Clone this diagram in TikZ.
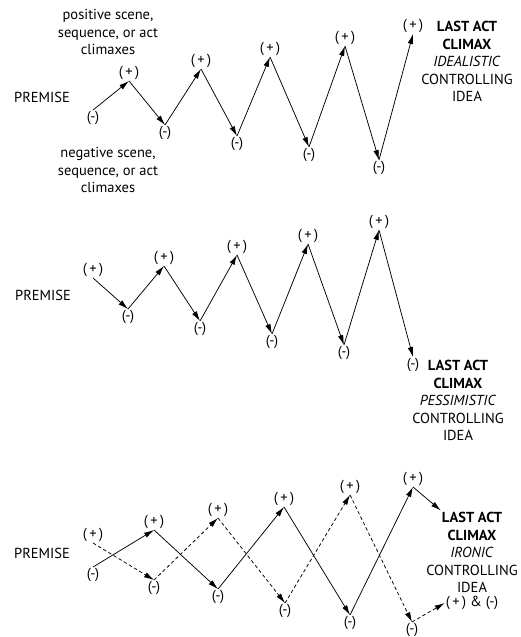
\documentclass[tikz,border=0pt]{standalone}
\usepackage{fontspec}
\setmainfont{PT Sans}
\usetikzlibrary{positioning}
\usetikzlibrary{arrows.meta}

\begin{document}
\begin{tikzpicture}[
    x=1pt, y=-1pt,       % one unit per pixel, y running down
    node distance=5pt,   % gap below the LAST ACT heads
    ]
% -------------------------------------------------
\tikzset{
  base/.style={inner sep=1pt, font=\fontsize{14.5}{17.5}\selectfont},
  sign/.style={base},
  note/.style={base, align=center},
  head/.style={base, font=\fontsize{14.5}{17.5}\selectfont\bfseries},
  line/.style={draw, line width=0.75pt, -{Latex[length=10pt,width=5.5pt]}},
  dline/.style={line, dash pattern=on 3.5pt off 2.5pt}
}
\useasboundingbox (0,0) rectangle (521,637);
% -------------------------------------------------
% Idealistic ending

\node [note] (pos) at (108,32) {positive scene,\\sequence, or act\\climaxes};
\node [note] (neg) at (108,170) {negative scene,\\sequence, or act\\climaxes};
\node [base] (prt) at (42,97) {PREMISE};

\node [sign] (tm0) at (93,118) {(-)};
\node [sign] (tp1) at (129,73) {(\,+\,)};
\node [sign] (tm1) at (165,133) {(-)};
\node [sign] (tp2) at (201,61) {(\,+\,)};
\node [sign] (tm2) at (237,144) {(-)};
\node [sign] (tp3) at (270,49) {(\,+\,)};
\node [sign] (tm3) at (309,155) {(-)};
\node [sign] (tp4) at (345,38) {(\,+\,)};
\node [sign] (tm4) at (379,168) {(-)};
\node [sign] (tp5) at (413,26) {(\,+\,)};
\node [head] (lastt) at (467,26) {LAST ACT};
\node [note, below=of lastt] (idea) {\textbf{CLIMAX}\\\textit{IDEALISTIC}\\CONTROLLING\\IDEA};

\path [line] (tm0.north) -- (tp1.south);
\path [line] (tp1.south) -- (tm1.north);
\path [line] (tm1.north) -- (tp2.south);
\path [line] (tp2.south) -- (tm2.north);
\path [line] (tm2.north) -- (tp3.south);
\path [line] (tp3.south) -- (tm3.north);
\path [line] (tm3.north) -- (tp4.south);
\path [line] (tp4.south) -- (tm4.north);
\path [line] (tm4.north) -- (tp5.south);

% -------------------------------------------------
% Pessimistic ending

\node [base] (prm) at (43,295) {PREMISE};

\node [sign] (mp0) at (93,270) {(\,+\,)};
\node [sign] (mm1) at (128,317) {(-)};
\node [sign] (mp1) at (164,258) {(\,+\,)};
\node [sign] (mm2) at (200,329) {(-)};
\node [sign] (mp2) at (237,247) {(\,+\,)};
\node [sign] (mm3) at (272,342) {(-)};
\node [sign] (mp3) at (308,236) {(\,+\,)};
\node [sign] (mm4) at (344,353) {(-)};
\node [sign] (mp4) at (379,222) {(\,+\,)};
\node [sign] (mm5) at (413,365) {(-)};
\node [head] (lastm) at (458,365) {LAST ACT};
\node [note, below=of lastm] (pess) {\textbf{CLIMAX}\\\textit{PESSIMISTIC}\\CONTROLLING\\IDEA};

\path [line] (mp0.south) -- (mm1.north);
\path [line] (mm1.north) -- (mp1.south);
\path [line] (mp1.south) -- (mm2.north);
\path [line] (mm2.north) -- (mp2.south);
\path [line] (mp2.south) -- (mm3.north);
\path [line] (mm3.north) -- (mp3.south);
\path [line] (mp3.south) -- (mm4.north);
\path [line] (mm4.north) -- (mp4.south);
\path [line] (mp4.south) -- (mm5.north);

% -------------------------------------------------
% Ironic ending: two crossing lines

\node [base] (prb) at (42,553) {PREMISE};

\node [sign] (bp0) at (93,535) {(\,+\,)};
\node [sign] (bm0) at (93,575) {(-)};
\node [sign] (bp1) at (154,522) {(\,+\,)};
\node [sign] (bm1) at (154,588) {(-)};
\node [sign] (bp2) at (218,510) {(\,+\,)};
\node [sign] (bm2) at (218,597) {(-)};
\node [sign] (bp3) at (284,499) {(\,+\,)};
\node [sign] (bm3) at (285,611) {(-)};
\node [sign] (bp4) at (350,487) {(\,+\,)};
\node [sign] (bm4) at (350,623) {(-)};
\node [sign] (bp5) at (413,479) {(\,+\,)};
\node [sign] (bm5) at (412,630) {(-)};
\node [head] (lastb) at (472,517) {LAST ACT};
\node [note, below=of lastb] (iron) {\textbf{CLIMAX}\\\textit{IRONIC}\\CONTROLLING\\IDEA};
\node [sign] (mix) at (472,603) {(\,+\,) \& (-)};

\path [line] (bm0.north) -- (bp1.south);
\path [line] (bp1.south) -- (bm2.north);
\path [line] (bm2.north) -- (bp3.south);
\path [line] (bp3.south) -- (bm4.north);
\path [line] (bm4.north) -- (bp5.south);
\path [line] (bp5.south) -- (lastb.north west);

\path [dline] (bp0.south) -- (bm1.north);
\path [dline] (bm1.north) -- (bp2.south);
\path [dline] (bp2.south) -- (bm3.north);
\path [dline] (bm3.north) -- (bp4.south);
\path [dline] (bp4.south) -- (bm5.north);
\path [dline] (bm5.north) -- (mix.west);

\end{tikzpicture}
\end{document}
